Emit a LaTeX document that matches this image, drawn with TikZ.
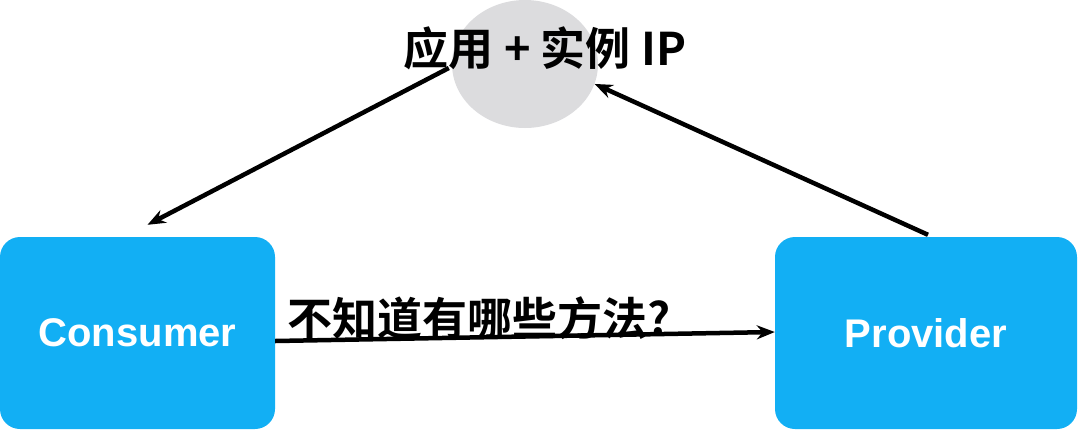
\documentclass[tikz,border=0pt]{standalone}
\usepackage{fontspec}
\setmainfont{Liberation Sans}
\newfontfamily\cjkb{Noto Sans CJK SC Bold}
\usetikzlibrary{arrows.meta,shapes.geometric}
\definecolor{boxblue}{HTML}{12AFF4}
\definecolor{ellgray}{HTML}{DCDCDE}
\tikzset{
  box/.style={rectangle, rounded corners=20pt, fill=boxblue, draw=none,
    minimum width=#1, minimum height=192pt, inner sep=0pt,
    text=white, font=\bfseries\fontsize{40}{46}\selectfont},
  conn/.style={line width=4.5pt, draw=black, -{Stealth[length=18pt,width=14pt]}},
  lbl/.style={inner sep=0pt, font=\cjkb\fontsize{45}{50}\selectfont, text=black},
}
\begin{document}
\begin{tikzpicture}[x=1pt,y=-1pt]
\useasboundingbox (0,0) rectangle (1078,429);
\node[ellipse, fill=ellgray, minimum width=146pt, minimum height=128pt, inner sep=0pt] (reg) at (525,64) {};
\node[lbl] (reglbl) at (545,48) {应用 + 实例 IP};
\node[box=275pt] (consumer) at (137.5,333) {Consumer};
\node[box=302pt] (provider) at (926,333) {Provider};
\coordinate (cin) at ([xshift=10pt,yshift=12pt]consumer.north);
\draw[conn] ([xshift=-3pt,yshift=-4pt]reg.west) -- (cin);
\draw[conn] ([xshift=2pt,yshift=2pt]provider.north) -- (reg.-16);
\draw[conn] ([yshift=-8pt]consumer.east) -- ([yshift=1pt]provider.west);
\node[lbl, anchor=west] (q) at (287,318) {不知道有哪些方法?};
\end{tikzpicture}
\end{document}
